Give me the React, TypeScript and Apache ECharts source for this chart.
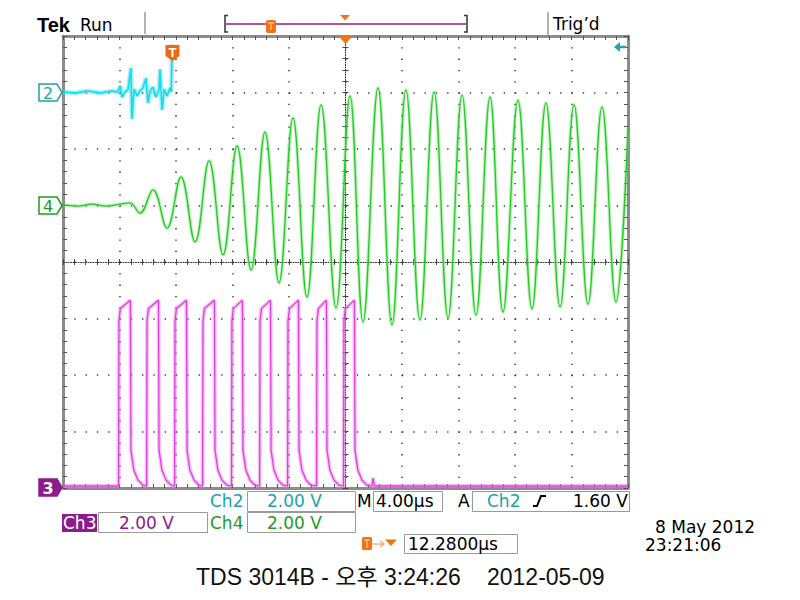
import React, { useEffect, useRef } from "react";
import * as echarts from "echarts";

// Horizontal: µs relative to screen centre (4 µs/div). Vertical: volts relative to channel ground (2 V/div).
const timeMin = -20;
const timeMax = 20;
const timePerDiv = 4;
const divMin = -4;
const divMax = 4;
const voltsPerDiv = 2;

const ch2Offset = 3; // ground marker divisions from centre
const ch4Offset = 1;
const ch3Offset = -4;

const ch2Time = [-20.0, -19.15, -18.23, -17.38, -16.53, -16.11, -15.96, -15.82, -15.61, -15.4, -15.19, -15.12, -14.97, -14.76, -14.55, -14.34, -14.13, -13.98, -13.84, -13.63, -13.42, -13.2, -13.13, -12.99, -12.85, -12.64, -12.42, -12.33, -12.28];
const ch2Volt = [0.02, -0.02, 0.05, -0.02, 0.05, 0.02, 0.23, -0.16, 0.02, 0.09, 0.87, -0.94, 0.12, -0.12, 0.05, 0.16, 0.51, -0.37, 0.05, 0.19, -0.16, 0.09, 0.83, -0.62, 0.12, -0.12, 0.16, 0.02, 1.7];

const ch4Time = [-20.0, -18.94, -17.95, -16.96, -15.96, -15.26, -14.55, -13.63, -12.64, -11.65, -10.65, -9.66, -8.67, -7.68, -6.69, -5.7, -4.71, -3.72, -2.73, -1.73, -0.67, 0.32, 1.24, 2.3, 3.29, 4.28, 5.27, 6.27, 7.26, 8.25, 9.24, 10.23, 11.15, 12.21, 13.2, 14.19, 15.19, 16.18, 17.17, 18.16, 19.15, 20.0];
const ch4Volt = [0.02, -0.02, 0.05, -0.02, 0.05, 0.09, -0.27, 0.55, -0.8, 1.01, -1.29, 1.58, -1.75, 2.11, -2.28, 2.6, -2.74, 3.1, -3.24, 3.56, -3.63, 3.88, -4.12, 4.16, -4.23, 4.09, -4.05, 4.02, -3.98, 3.91, -3.88, 3.84, -3.77, 3.73, -3.66, 3.63, -3.59, 3.56, -3.49, 3.49, -3.42, 2.67];

const ch3RiseTime = [-16.04, -14.05, -12.07, -10.09, -8.04, -6.05, -4.07, -2.02, -0.11];
const ch3FallTime = [-15.19, -13.2, -11.22, -9.24, -7.26, -5.27, -3.29, -1.31, 0.67];
const ch3BaseVolt = 0.07;
const ch3TopDt = [0, 0.1];
const ch3TopVolt = [5.9, 6.35];
const ch3TopEndVolt = 6.65;
const ch3TailDt = [0, 0.2, 0.5, 0.85];
const ch3TailVolt = [1.35, 0.64, 0.28, 0.1];
const ch3AfterTime = [1.88, 1.95, 2.05];
const ch3AfterVolt = [0.07, 0.35, 0.07];

const toDiv = (offset: number, v: number) => offset + v / voltsPerDiv;

function buildCh3(): number[][] {
  const pts: number[][] = [[timeMin, toDiv(ch3Offset, ch3BaseVolt)]];
  ch3RiseTime.forEach((r, i) => {
    const f = ch3FallTime[i];
    pts.push([r - 0.03, toDiv(ch3Offset, ch3BaseVolt)]);
    ch3TopDt.forEach((dt, k) => pts.push([r + dt, toDiv(ch3Offset, ch3TopVolt[k])]));
    pts.push([f - 0.04, toDiv(ch3Offset, ch3TopEndVolt)]);
    ch3TailDt.forEach((dt, k) => pts.push([f + dt, toDiv(ch3Offset, ch3TailVolt[k])]));
  });
  ch3AfterTime.forEach((t, k) => pts.push([t, toDiv(ch3Offset, ch3AfterVolt[k])]));
  pts.push([timeMax, toDiv(ch3Offset, ch3BaseVolt)]);
  return pts;
}

const FONT = '"DejaVu Sans", Verdana, sans-serif';

function txt(x: number, y: number, text: string, fill: string, size = 17, extra: any = {}) {
  return {
    type: "text",
    x,
    y,
    silent: true,
    z: 100,
    style: {
      text,
      fill,
      font: `${extra.weight || "normal"} ${size}px ${extra.family || FONT}`,
      textAlign: extra.align || "left",
      align: extra.align || "left",
      textVerticalAlign: "middle",
      verticalAlign: "middle",
    },
  };
}
function box(x: number, y: number, w: number, h: number, stroke = "#9a9a9a", fill = "none") {
  return { type: "rect", silent: true, z: 90, shape: { x, y, width: w, height: h }, style: { stroke, fill, lineWidth: 1 } };
}
function chMarker(y: number, label: string, color: string, filled: boolean) {
  return [
    {
      type: "polygon",
      silent: true,
      z: 95,
      shape: { points: [[39, y - 8.5], [57, y - 8.5], [62, y], [57, y + 8.5], [39, y + 8.5]] },
      style: { fill: filled ? color : "#ffffff", stroke: color, lineWidth: 1.5 },
    },
    txt(48, y + 0.5, label, filled ? "#ffffff" : color, 16, { align: "center", weight: filled ? "bold" : "normal" }),
  ];
}

const borderAxis = (pos: string, isX: boolean, split: boolean) => ({
  type: "value",
  position: pos,
  min: isX ? timeMin : divMin,
  max: isX ? timeMax : divMax,
  interval: isX ? timePerDiv : 1,
  axisLine: { show: true, onZero: false, lineStyle: { color: "#8c8c8c", width: 3 } },
  axisTick: { show: true, inside: true, length: 4, lineStyle: { color: "#555", width: 1 } },
  minorTick: { show: true, splitNumber: 5, length: 4, lineStyle: { color: "#555", width: 1 } },
  axisLabel: { show: false },
  splitLine: { show: split, lineStyle: { color: "#333", width: 1.5, type: [1.3, 10] } },
  minorSplitLine: { show: false },
});
const centreAxis = (pos: string, isX: boolean, inside: boolean, line: boolean) => ({
  type: "value",
  position: pos,
  min: isX ? timeMin : divMin,
  max: isX ? timeMax : divMax,
  interval: isX ? timePerDiv : 1,
  axisLine: { show: line, onZero: true, onZeroAxisIndex: 0, lineStyle: { color: "#333", width: 1, type: [1, 1.5] } },
  axisTick: { show: true, inside, length: 3, lineStyle: { color: "#444", width: 1 } },
  minorTick: { show: true, splitNumber: 5, length: 3, lineStyle: { color: "#444", width: 1 } },
  axisLabel: { show: false },
  splitLine: { show: false },
});

export default function App() {
  const ref = useRef<HTMLDivElement>(null);
  useEffect(() => {
    if (!ref.current) return;
    const chart = echarts.init(ref.current, null, { renderer: "svg" });
    const ch2Data = ch2Time.map((t, i) => [t, toDiv(ch2Offset, ch2Volt[i])]);
    const ch4Data = ch4Time.map((t, i) => [t, toDiv(ch4Offset, ch4Volt[i])]);
    const ch3Data = buildCh3();

    const orange = "#ef7417";
    const teal = "#22a3a6";
    const green = "#1f9a1f";
    const purple = "#8c1b8c";

    const graphic: any[] = [
      // header
      txt(37, 25, "Tek", "#000", 20, { weight: "bold", family: '"Liberation Sans", Arial, sans-serif' }),
      txt(80, 25, "Run", "#000", 17),
      { type: "line", silent: true, shape: { x1: 145, y1: 12, x2: 145, y2: 34 }, style: { stroke: "#9a9a9a", lineWidth: 1.5 } },
      { type: "line", silent: true, shape: { x1: 226, y1: 24, x2: 466, y2: 24 }, style: { stroke: "#9c1f6e", lineWidth: 1.5 } },
      { type: "polyline", silent: true, shape: { points: [[228, 15.5], [225, 15.5], [225, 32], [228, 32]] }, style: { stroke: "#333", lineWidth: 1.5, fill: "none" } },
      { type: "polyline", silent: true, shape: { points: [[464, 15.5], [467, 15.5], [467, 32], [464, 32]] }, style: { stroke: "#333", lineWidth: 1.5, fill: "none" } },
      { type: "rect", silent: true, shape: { x: 266, y: 20, width: 10, height: 13, r: 2 }, style: { fill: orange } },
      { type: "line", silent: true, shape: { x1: 268, y1: 23, x2: 274, y2: 23 }, style: { stroke: "#ffd9b0", lineWidth: 1 } },
      { type: "line", silent: true, shape: { x1: 271, y1: 23, x2: 271, y2: 30 }, style: { stroke: "#ffd9b0", lineWidth: 1 } },
      { type: "polygon", silent: true, shape: { points: [[340, 15], [350, 15], [345, 20.5]] }, style: { fill: orange } },
      { type: "line", silent: true, shape: { x1: 548, y1: 12, x2: 548, y2: 35 }, style: { stroke: "#9a9a9a", lineWidth: 1.5 } },
      txt(553, 24, "Trig\u2019d", "#000", 17),
      // screen markers
      { type: "polygon", silent: true, z: 95, shape: { points: [[338.5, 36], [352.5, 36], [345.5, 44]] }, style: { fill: orange } },
      { type: "polygon", silent: true, z: 95, shape: { points: [[165.5, 45], [179.5, 45], [179.5, 56], [172.5, 61], [165.5, 56]] }, style: { fill: "#ec6a12" } },
      txt(172.5, 52, "T", "#ffffff", 13, { align: "center", weight: "bold", family: '"Liberation Sans", Arial, sans-serif' }),
      { type: "polygon", silent: true, z: 95, shape: { points: [[614, 47], [620, 42], [620, 52]] }, style: { fill: teal } },
      { type: "line", silent: true, z: 95, shape: { x1: 619, y1: 47, x2: 626, y2: 47 }, style: { stroke: teal, lineWidth: 2.5 } },
      ...chMarker(92.5, "2", teal, false),
      ...chMarker(205.5, "4", green, false),
      ...chMarker(487.5, "3", purple, true),
      // readouts row 1
      txt(210, 501, "Ch2", teal),
      box(247.5, 491.5, 108, 20),
      txt(267, 501, "2.00 V", teal),
      txt(357, 501, "M", "#000"),
      box(373.5, 491.5, 69, 20),
      txt(376, 501, "4.00\u00b5s", "#000"),
      txt(458, 501, "A", "#000"),
      box(472.5, 491.5, 157, 20),
      txt(487, 501, "Ch2", teal),
      { type: "polyline", silent: true, z: 95, shape: { points: [[533, 506], [537, 506], [541, 496], [546, 496]] }, style: { stroke: "#000", lineWidth: 2, fill: "none" } },
      txt(573, 501, "1.60 V", "#000"),
      // row 2
      { type: "rect", silent: true, z: 90, shape: { x: 62, y: 514, width: 35, height: 18 }, style: { fill: purple } },
      txt(63, 523, "Ch3", "#ffffff"),
      box(98.5, 512.5, 109, 20),
      txt(119, 523, "2.00 V", purple),
      txt(210, 523, "Ch4", green),
      box(247.5, 512.5, 108, 20),
      txt(267, 523, "2.00 V", green),
      // row 3
      { type: "rect", silent: true, z: 90, shape: { x: 362, y: 537, width: 10, height: 13, r: 1.5 }, style: { fill: orange } },
      { type: "line", silent: true, z: 90, shape: { x1: 364, y1: 540, x2: 370, y2: 540 }, style: { stroke: "#ffd9b0", lineWidth: 1 } },
      { type: "line", silent: true, z: 90, shape: { x1: 367, y1: 540, x2: 367, y2: 548 }, style: { stroke: "#ffd9b0", lineWidth: 1 } },
      { type: "line", silent: true, z: 90, shape: { x1: 372, y1: 544, x2: 384, y2: 544 }, style: { stroke: "#f5a262", lineWidth: 1.2 } },
      { type: "polyline", silent: true, z: 90, shape: { points: [[380, 541], [384, 544], [380, 547]] }, style: { stroke: "#f5a262", lineWidth: 1.2, fill: "none" } },
      { type: "polygon", silent: true, z: 90, shape: { points: [[385, 539.5], [397, 539.5], [391, 546]] }, style: { fill: orange } },
      box(404.5, 534.5, 113, 19),
      txt(408, 544, "12.2800\u00b5s", "#000"),
      // date / time
      txt(655, 527, "8 May 2012", "#000"),
      txt(645, 545, "23:21:06", "#000"),
      // footer
      txt(196, 577, "TDS 3014B - \uc624\ud6c4 3:24:26", "#111", 23, { family: '"Liberation Sans", Arial, "Noto Sans CJK KR", sans-serif' }),
      txt(487, 577, "2012-05-09", "#111", 23, { family: '"Liberation Sans", Arial, "Noto Sans CJK KR", sans-serif' }),
    ];

    chart.setOption({
      animation: false,
      backgroundColor: "#ffffff",
      grid: { left: 63, top: 36, width: 565, height: 452, containLabel: false },
      xAxis: [
        borderAxis("bottom", true, true),
        borderAxis("top", true, false),
        centreAxis("bottom", true, true, true),
        centreAxis("bottom", true, false, false),
      ],
      yAxis: [
        borderAxis("left", false, true),
        borderAxis("right", false, false),
        centreAxis("left", false, true, true),
        centreAxis("left", false, false, false),
      ],
      series: [
        { type: "line", name: "Ch3 halo", data: ch3Data, symbol: "none", silent: true, z: 3, lineStyle: { color: "rgba(236,120,236,0.45)", width: 4 } },
        { type: "line", name: "Ch3", data: ch3Data, symbol: "none", silent: true, z: 4, lineStyle: { color: "#e040e0", width: 1.3 } },
        { type: "line", name: "Ch4 halo", data: ch4Data, smooth: 0.4, symbol: "none", silent: true, z: 5, lineStyle: { color: "rgba(110,225,110,0.45)", width: 3.5 } },
        { type: "line", name: "Ch4", data: ch4Data, smooth: 0.4, symbol: "none", silent: true, z: 6, lineStyle: { color: "#22cc22", width: 1.3 } },
        { type: "line", name: "Ch2 halo", data: ch2Data, symbol: "none", silent: true, z: 5, lineStyle: { color: "rgba(60,225,240,0.5)", width: 4.5 } },
        { type: "line", name: "Ch2", data: ch2Data, symbol: "none", silent: true, z: 6, lineStyle: { color: "#10dcec", width: 1.5 } },
      ],
      graphic,
    });
    return () => chart.dispose();
  }, []);
  return <div ref={ref} style={{ position: "absolute", left: 0, top: 0, width: 800, height: 600 }} />;
}
